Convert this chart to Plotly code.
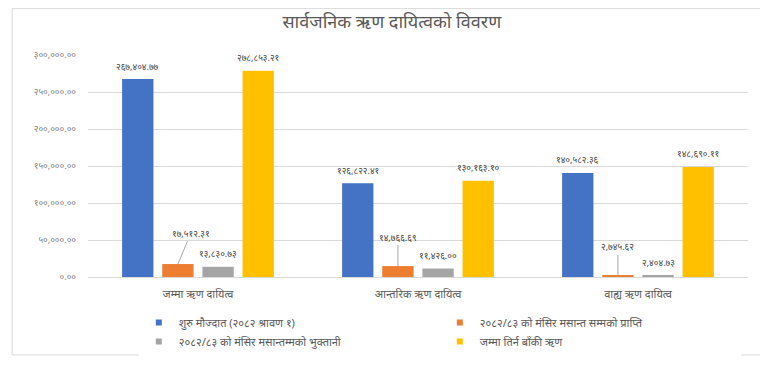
import plotly.graph_objects as go

categories = ["जम्मा ऋण दायित्व", "आन्तरिक ऋण दायित्व", "वाह्य ऋण दायित्व"]
series_names = [
    "शुरु मौज्दात (२०८२ श्रावण १)",
    "२०८२/८३ को मंसिर मसान्त सम्मको प्राप्ति",
    "२०८२/८३ को मंसिर मसान्तम्मको भुक्तानी",
    "जम्मा तिर्न बाँकी ऋण",
]
opening = [267404.77, 126822.41, 140582.36]
received = [17512.31, 14766.69, 2745.62]
paid = [13830.73, 11426.00, 2404.73]
outstanding = [278853.21, 130163.10, 148690.11]
colors = ["#4472C4", "#ED7D31", "#A5A5A5", "#FFC000"]
y_ticks = [0, 50000, 100000, 150000, 200000, 250000, 300000]

DEV = str.maketrans("0123456789", "०१२३४५६७८९")


def dev(v):
    return f"{v:,.2f}".translate(DEV)


FONT = "Noto Sans, Noto Sans Devanagari, sans-serif"
series = [opening, received, paid, outstanding]

fig = go.Figure()
for name, vals, col in zip(series_names, series, colors):
    fig.add_trace(go.Bar(x=categories, y=vals, name=name, marker_color=col,
                         marker_line_width=0, showlegend=False))
# small square legend keys
for name, col in zip(series_names, colors):
    fig.add_trace(go.Scatter(x=[None], y=[None], mode="markers", name=name,
                             marker=dict(symbol="square", size=6, color=col),
                             showlegend=True))

slot = (1 - 0.27) * 220 / 4
offsets = [-1.5 * slot, -0.5 * slot, 0.5 * slot, 1.5 * slot]
orange_ax = [13, 0, 0]
orange_ay = [-31, -29, -28]
for si, vals in enumerate(series):
    for ci, v in enumerate(vals):
        if si == 1:
            fig.add_annotation(x=categories[ci], y=v, xshift=offsets[si],
                               text=dev(v), showarrow=True, arrowhead=0,
                               arrowwidth=1, arrowcolor="#A6A6A6",
                               ax=orange_ax[ci], ay=orange_ay[ci], standoff=0,
                               font=dict(size=9, color="#404040", family=FONT))
        else:
            fig.add_annotation(x=categories[ci], y=v, xshift=offsets[si],
                               yshift=13, text=dev(v), showarrow=False,
                               font=dict(size=9, color="#404040", family=FONT))

fig.add_shape(type="rect", xref="paper", yref="paper",
              x0=-0.115, x1=1.026, y0=-0.351, y1=1.21,
              line=dict(color="#D9D9D9", width=1), fillcolor="rgba(0,0,0,0)")

fig.update_layout(
    width=760, height=361,
    margin=dict(l=80, r=20, t=47, b=92, autoexpand=False),
    paper_bgcolor="white", plot_bgcolor="white",
    barmode="group", bargap=0.27, bargroupgap=0.22,
    font=dict(family=FONT, color="#595959"),
    title=dict(text="सार्वजनिक ऋण दायित्वको विवरण", x=0.505, xanchor="center",
               y=0.961, yanchor="middle",
               font=dict(size=18, color="#595959", family=FONT)),
    xaxis=dict(showline=True, linecolor="#D9D9D9", ticks="", automargin=False,
               ticklabelstandoff=7,
               tickfont=dict(size=11, color="#595959")),
    yaxis=dict(range=[0, 300000], tickvals=y_ticks, automargin=False,
               ticktext=[dev(t) for t in y_ticks], showgrid=True,
               gridcolor="#D9D9D9", zeroline=False, ticks="",
               tickfont=dict(size=9, color="#7F7F7F"), ticklabelstandoff=11),
    legend=dict(orientation="h", x=0.077, xanchor="left", y=-0.14,
                yanchor="top", entrywidth=256, entrywidthmode="pixels",
                font=dict(size=11, color="#595959"), itemwidth=30,
                tracegroupgap=0),
    showlegend=True,
)

fig.write_html("out.html")
